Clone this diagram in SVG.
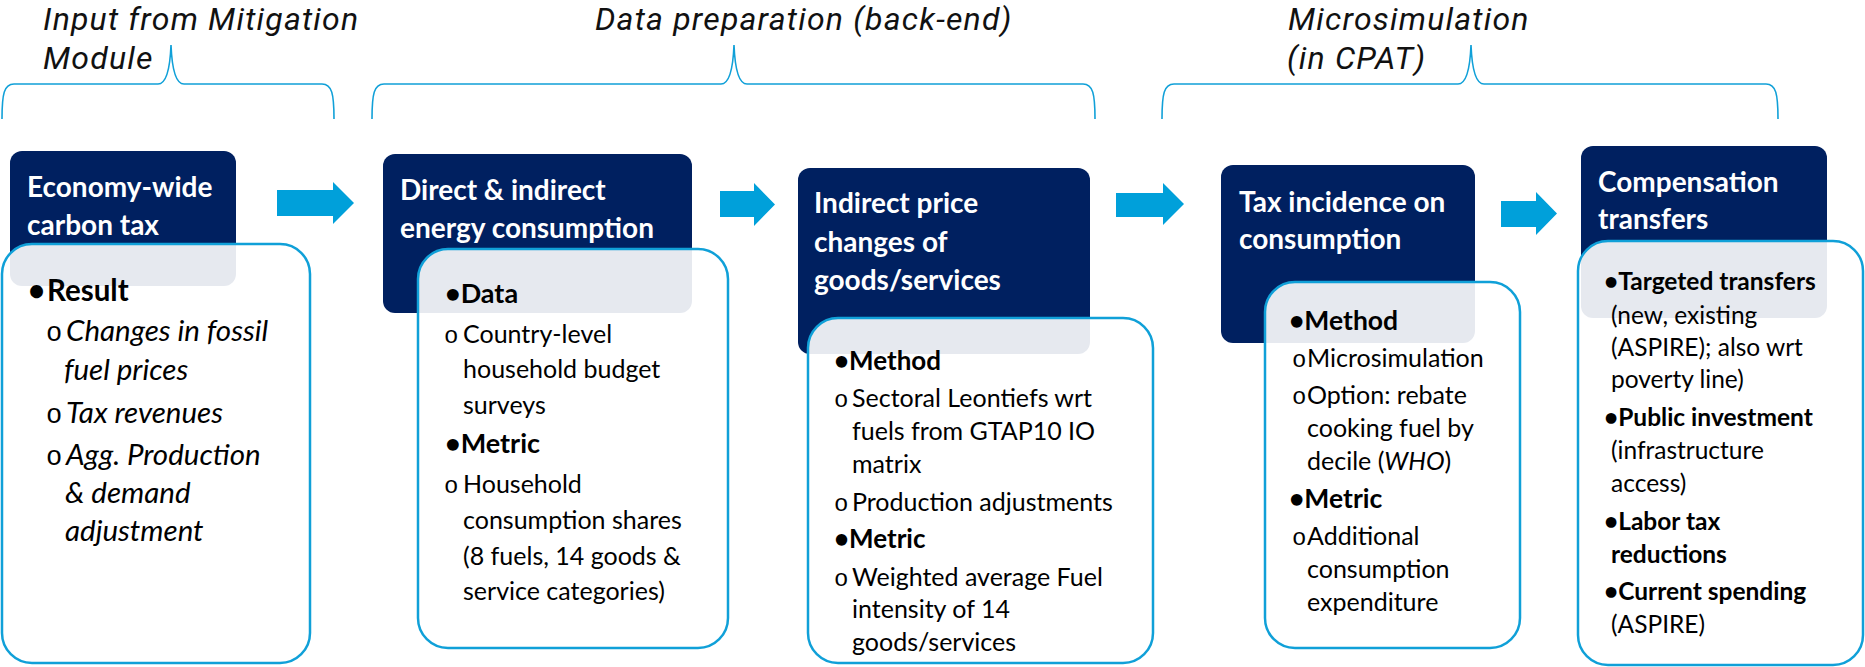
<svg xmlns="http://www.w3.org/2000/svg" width="1865" height="667" viewBox="0 0 1865 667">
<defs>
<style>
.hdr{font-family:Roboto,"Open Sans",sans-serif;font-style:italic;font-weight:400;font-size:32px;letter-spacing:1.2px;fill:#111}
.dark{fill:#002060}
.card{fill:#fff;fill-opacity:0.9;stroke:#10a0d8;stroke-width:2.5}
.brace{fill:none;stroke:#10a0d8;stroke-width:1.6}
.arrow{fill:#00a0da}
.ttl{font-family:Lato,"Liberation Sans",sans-serif;font-weight:700;font-size:28px;fill:#fff}
.b{font-family:Lato,"Liberation Sans",sans-serif;font-size:25px;fill:#000}
.bi{font-family:Lato,"Liberation Sans",sans-serif;font-size:29.5px;font-style:italic;fill:#000}
.h{font-weight:700;font-style:normal}
.s{font-size:24.5px}
.ob{font-family:"Liberation Mono",monospace;font-style:normal;font-weight:400;font-size:24px}
.ob1{font-family:"Liberation Mono",monospace;font-style:normal;font-weight:400;font-size:27px}
</style>
</defs>
<g id="headers">
<text class="hdr" x="43" y="30">Input from Mitigation</text>
<text class="hdr" x="43" y="69">Module</text>
<text class="hdr" x="595" y="30">Data preparation (back-end)</text>
<text class="hdr" x="1288" y="30">Microsimulation</text>
<text class="hdr" x="1287" y="69">(in CPAT)</text>
</g>
<g id="braces">
<path class="brace" d="M2 119 C2 94 4 84 14 84 L158 84 C166 84 170 70 171 45 C172 70 176 84 184 84 L322 84 C332 84 334 94 334 119"/>
<path class="brace" d="M372 119 C372 94 374 84 384 84 L721 84 C729 84 733 70 734 45 C735 70 739 84 747 84 L1083 84 C1093 84 1095 94 1095 119"/>
<path class="brace" d="M1162 119 C1162 94 1164 84 1174 84 L1458 84 C1466 84 1470 70 1471 45 C1472 70 1476 84 1484 84 L1766 84 C1776 84 1778 94 1778 119"/>
</g>
<g id="connectors">
<polygon class="arrow" points="277,190 333,190 333,182 354,203 333,224 333,216 277,216"/>
<polygon class="arrow" points="720,191 754,191 754,183 775,204.5 754,226 754,217 720,217"/>
<polygon class="arrow" points="1116,193 1163,193 1163,183 1184,204 1163,225 1163,217 1116,217"/>
<polygon class="arrow" points="1501,201 1536,201 1536,192 1557,213.5 1536,235 1536,227 1501,227"/>
</g>
<g id="node-carbon-tax">
<rect class="dark" x="10" y="151" width="226" height="135" rx="12"/>
<text class="ttl" x="27" y="197">Economy-wide</text>
<text class="ttl" x="27" y="235">carbon tax</text>
<rect class="card" x="2" y="244" width="308" height="419" rx="30"/>
<text class="bi" y="301" font-size="29"><tspan class="h" x="28">•</tspan><tspan class="h" x="47">Result</tspan></text>
<text class="bi" y="341"><tspan class="ob1" x="46">o</tspan><tspan x="66">Changes in fossil</tspan></text>
<text class="bi" x="64" y="380">fuel prices</text>
<text class="bi" y="423"><tspan class="ob1" x="46">o</tspan><tspan x="66">Tax revenues</tspan></text>
<text class="bi" y="465"><tspan class="ob1" x="46">o</tspan><tspan x="66">Agg. Production</tspan></text>
<text class="bi" x="65" y="503">&amp; demand</text>
<text class="bi" x="65" y="541">adjustment</text>
</g>
<g id="node-energy-consumption">
<rect class="dark" x="383" y="154" width="309" height="159" rx="12"/>
<text class="ttl" x="400" y="200">Direct &amp; indirect</text>
<text class="ttl" x="400" y="238">energy consumption</text>
<rect class="card" x="418" y="249" width="310" height="399" rx="30"/>
<text class="b" y="303"><tspan class="h" x="445" font-size="27">•Data</tspan></text>
<text class="b" y="343"><tspan class="ob" x="444">o</tspan><tspan x="463">Country-level</tspan></text>
<text class="b" x="463" y="378">household budget</text>
<text class="b" x="463" y="414">surveys</text>
<text class="b" y="453"><tspan class="h" x="445" font-size="27">•Metric</tspan></text>
<text class="b" y="493"><tspan class="ob" x="444">o</tspan><tspan x="463">Household</tspan></text>
<text class="b" x="463" y="529">consumption shares</text>
<text class="b" x="463" y="565">(8 fuels, 14 goods &amp;</text>
<text class="b" x="463" y="600">service categories)</text>
</g>
<g id="node-indirect-price">
<rect class="dark" x="798" y="168" width="292" height="186" rx="12"/>
<text class="ttl" x="814" y="213">Indirect price</text>
<text class="ttl" x="814" y="252">changes of</text>
<text class="ttl" x="814" y="290">goods/services</text>
<rect class="card" x="808" y="318" width="345" height="345" rx="30"/>
<text class="b" y="370"><tspan class="h" x="834" font-size="26">•Method</tspan></text>
<text class="b" y="407"><tspan class="ob" x="834">o</tspan><tspan x="852">Sectoral Leontiefs wrt</tspan></text>
<text class="b" x="852" y="440">fuels from GTAP10 IO</text>
<text class="b" x="852" y="473">matrix</text>
<text class="b" y="511"><tspan class="ob" x="834">o</tspan><tspan x="852">Production adjustments</tspan></text>
<text class="b" y="548"><tspan class="h" x="834" font-size="26">•Metric</tspan></text>
<text class="b" y="586"><tspan class="ob" x="834">o</tspan><tspan x="852">Weighted average Fuel</tspan></text>
<text class="b" x="852" y="618">intensity of 14</text>
<text class="b" x="852" y="651">goods/services</text>
</g>
<g id="node-tax-incidence">
<rect class="dark" x="1221" y="165" width="254" height="178" rx="12"/>
<text class="ttl" x="1239" y="212">Tax incidence on</text>
<text class="ttl" x="1239" y="249">consumption</text>
<rect class="card" x="1265" y="282" width="255" height="366" rx="30"/>
<text class="b" y="330"><tspan class="h" x="1289" font-size="26.5">•Method</tspan></text>
<text class="b" y="367"><tspan class="ob" x="1292">o</tspan><tspan x="1307">Microsimulation</tspan></text>
<text class="b" y="404"><tspan class="ob" x="1292">o</tspan><tspan x="1307">Option: rebate</tspan></text>
<text class="b" x="1307" y="437">cooking fuel by</text>
<text class="b" x="1307" y="470">decile (<tspan font-style="italic">WHO</tspan>)</text>
<text class="b" y="508"><tspan class="h" x="1289" font-size="26.5">•Metric</tspan></text>
<text class="b" y="545"><tspan class="ob" x="1292">o</tspan><tspan x="1307">Additional</tspan></text>
<text class="b" x="1307" y="578">consumption</text>
<text class="b" x="1307" y="611">expenditure</text>
</g>
<g id="node-compensation">
<rect class="dark" x="1581" y="146" width="246" height="172" rx="12"/>
<text class="ttl" x="1598" y="192">Compensation</text>
<text class="ttl" x="1598" y="229">transfers</text>
<rect class="card" x="1578" y="241" width="285" height="424" rx="30"/>
<text class="b s h" x="1604" y="290">•Targeted transfers</text>
<text class="b s" x="1611" y="324">(new, existing</text>
<text class="b s" x="1611" y="356">(ASPIRE); also wrt</text>
<text class="b s" x="1611" y="388">poverty line)</text>
<text class="b s h" x="1604" y="426">•Public investment</text>
<text class="b s" x="1611" y="459">(infrastructure</text>
<text class="b s" x="1611" y="492">access)</text>
<text class="b s h" x="1604" y="530">•Labor tax</text>
<text class="b s h" x="1611" y="563">reductions</text>
<text class="b s h" x="1604" y="600">•Current spending</text>
<text class="b s" x="1611" y="633">(ASPIRE)</text>
</g>
</svg>
